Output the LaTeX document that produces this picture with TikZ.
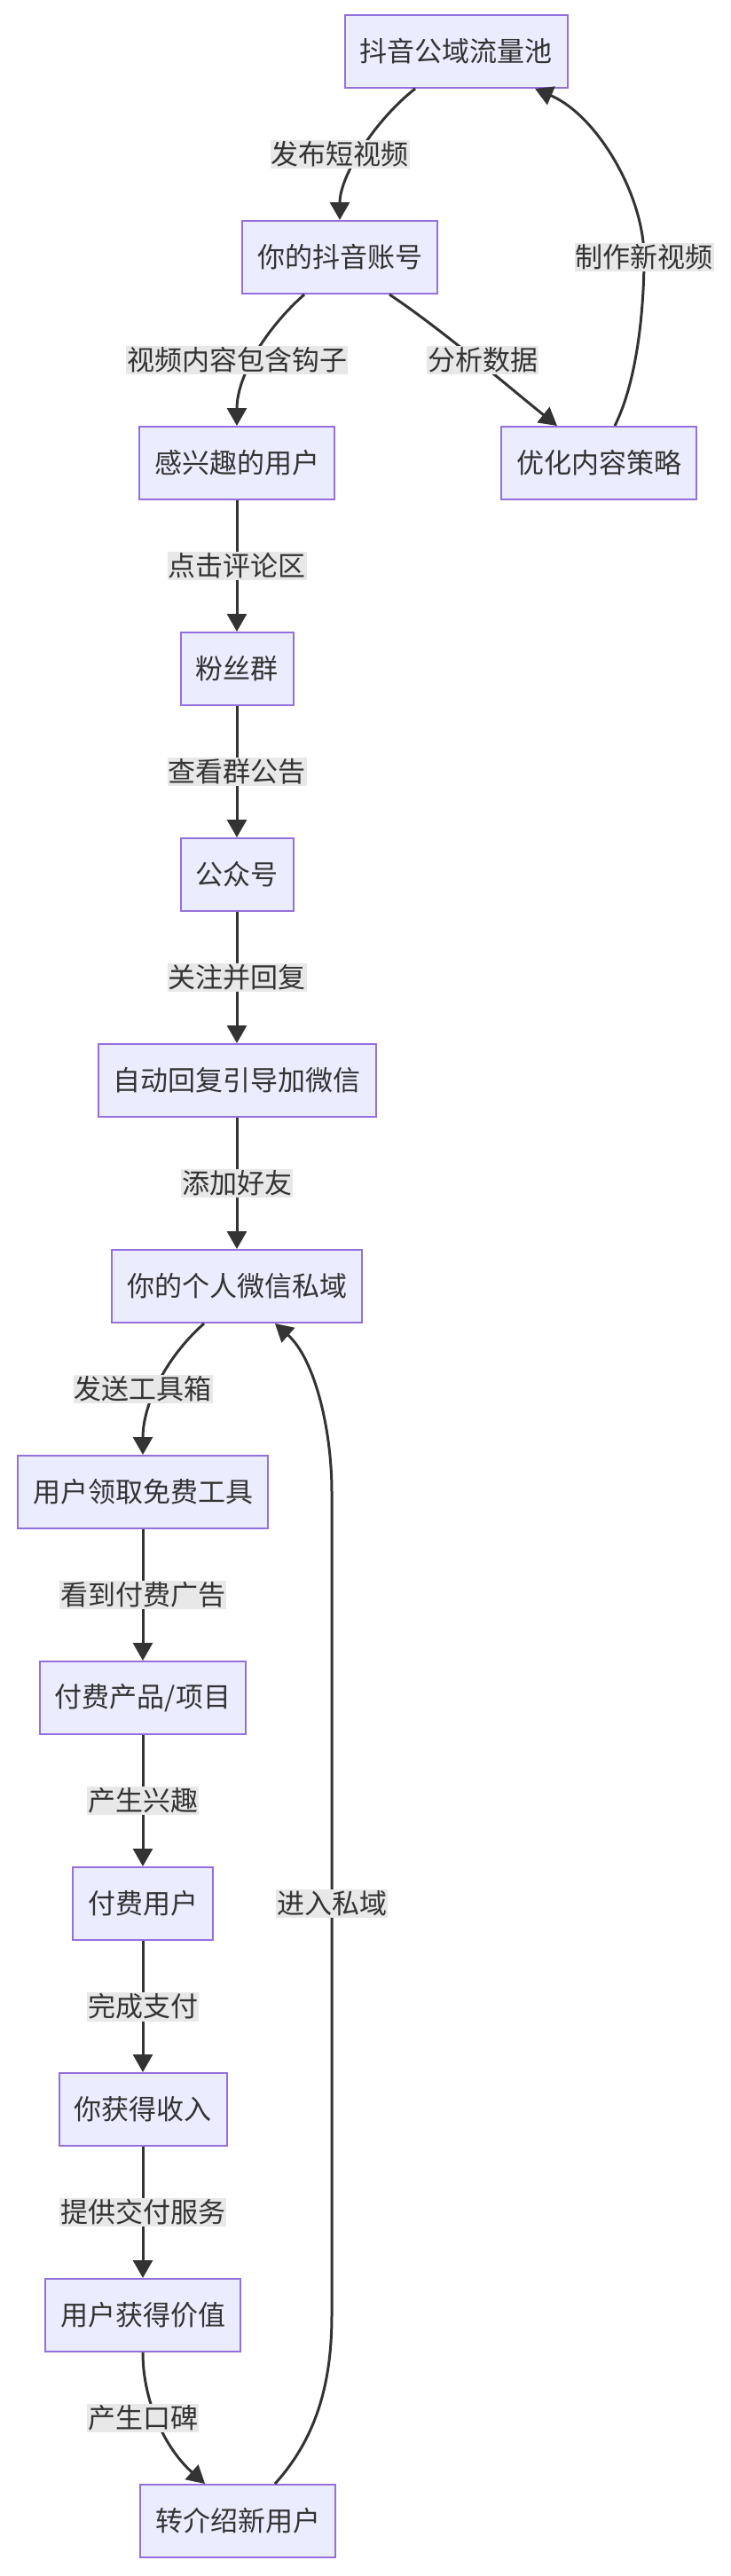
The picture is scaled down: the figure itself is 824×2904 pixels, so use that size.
\documentclass[tikz,border=0pt]{standalone}
\usepackage{fontspec}
\setmainfont{Noto Sans CJK SC}
\usetikzlibrary{arrows.meta}
\definecolor{nfill}{HTML}{ECECFF}
\definecolor{nline}{HTML}{9370DB}
\definecolor{ecol}{HTML}{333333}
\definecolor{lbg}{HTML}{E8E8E8}
\begin{document}
\begin{tikzpicture}[x=1pt,y=-1pt,
  box/.style={draw=nline,fill=nfill,line width=2pt,minimum height=82pt,inner xsep=17pt,text=ecol,font=\fontsize{31}{36}\selectfont},
  lab/.style={fill=lbg,inner xsep=1pt,inner ysep=2pt,text=ecol,font=\fontsize{31}{36}\selectfont},
  e/.style={draw=ecol,line width=3pt,-{Triangle[length=20pt,width=22pt]}}]
\useasboundingbox (0,0) rectangle (824,2904);
\def\r#1{58+232*#1}
\node[box] (n1) at (514,{\r0}) {抖音公域流量池};
\node[box] (n2) at (383,{\r1}) {你的抖音账号};
\node[box] (n3) at (267,{\r2}) {感兴趣的用户};
\node[box] (n4) at (675,{\r2}) {优化内容策略};
\node[box] (n5) at (267,{\r3}) {粉丝群};
\node[box] (n6) at (267,{\r4}) {公众号};
\node[box] (n7) at (267,{\r5}) {自动回复引导加微信};
\node[box] (n8) at (267,{\r6}) {你的个人微信私域};
\node[box] (n9) at (161,{\r7}) {用户领取免费工具};
\node[box] (n10) at (161,{\r8}) {付费产品/项目};
\node[box] (n11) at (161,{\r9}) {付费用户};
\node[box] (n12) at (161,{\r10}) {你获得收入};
\node[box] (n13) at (161,{\r11}) {用户获得价值};
\node[box] (n14) at (268,{\r12}) {转介绍新用户};
% edges
\draw[e] ([xshift=-46pt]n1.south) .. controls +(-45,35) and +(0,-50) .. (n2.north);
\draw[e] ([xshift=-40pt]n2.south) .. controls +(-45,40) and +(0,-55) .. (n3.north);
\draw[e] ([xshift=56pt]n2.south) .. controls +(60,40) and +(-50,-40) .. ([xshift=-47pt]n4.north);
\draw[e] ([xshift=18pt]n4.north) .. controls +(25,-50) and +(0,60) .. (726,{\r1}) .. controls +(0,-70) and +(70,30) .. ([xshift=89pt]n1.south);
\draw[e] (n3) -- (n5);
\draw[e] (n5) -- (n6);
\draw[e] (n6) -- (n7);
\draw[e] (n7) -- (n8);
\draw[e] ([xshift=-37pt]n8.south) .. controls +(-45,40) and +(0,-55) .. (n9.north);
\draw[e] (n9) -- (n10);
\draw[e] (n10) -- (n11);
\draw[e] (n11) -- (n12);
\draw[e] (n12) -- (n13);
\draw[e] (n13.south) .. controls +(0,55) and +(-45,-40) .. ([xshift=-37pt]n14.north);
\draw[e] ([xshift=42pt]n14.north) .. controls +(45,-50) and +(0,80) .. (374,{\r11}) -- (374,{\r7}) .. controls +(0,-70) and +(45,40) .. ([xshift=43pt]n8.south);
% labels
\node[lab] (l1) at (383,{\r0+116}) {发布短视频};
\node[lab] (l2) at (267,{\r1+116}) {视频内容包含钩子};
\node[lab] (l3) at (544,{\r1+116}) {分析数据};
\node[lab] (l4) at (726,{\r1}) {制作新视频};
\node[lab] (l5) at (267,{\r2+116}) {点击评论区};
\node[lab] (l6) at (267,{\r3+116}) {查看群公告};
\node[lab] (l7) at (267,{\r4+116}) {关注并回复};
\node[lab] (l8) at (267,{\r5+116}) {添加好友};
\node[lab] (l9) at (161,{\r6+116}) {发送工具箱};
\node[lab] (l10) at (161,{\r7+116}) {看到付费广告};
\node[lab] (l11) at (161,{\r8+116}) {产生兴趣};
\node[lab] (l12) at (161,{\r9+116}) {完成支付};
\node[lab] (l13) at (161,{\r10+116}) {提供交付服务};
\node[lab] (l14) at (161,{\r11+116}) {产生口碑};
\node[lab] (l15) at (374,{\r9}) {进入私域};
\end{tikzpicture}
\end{document}
